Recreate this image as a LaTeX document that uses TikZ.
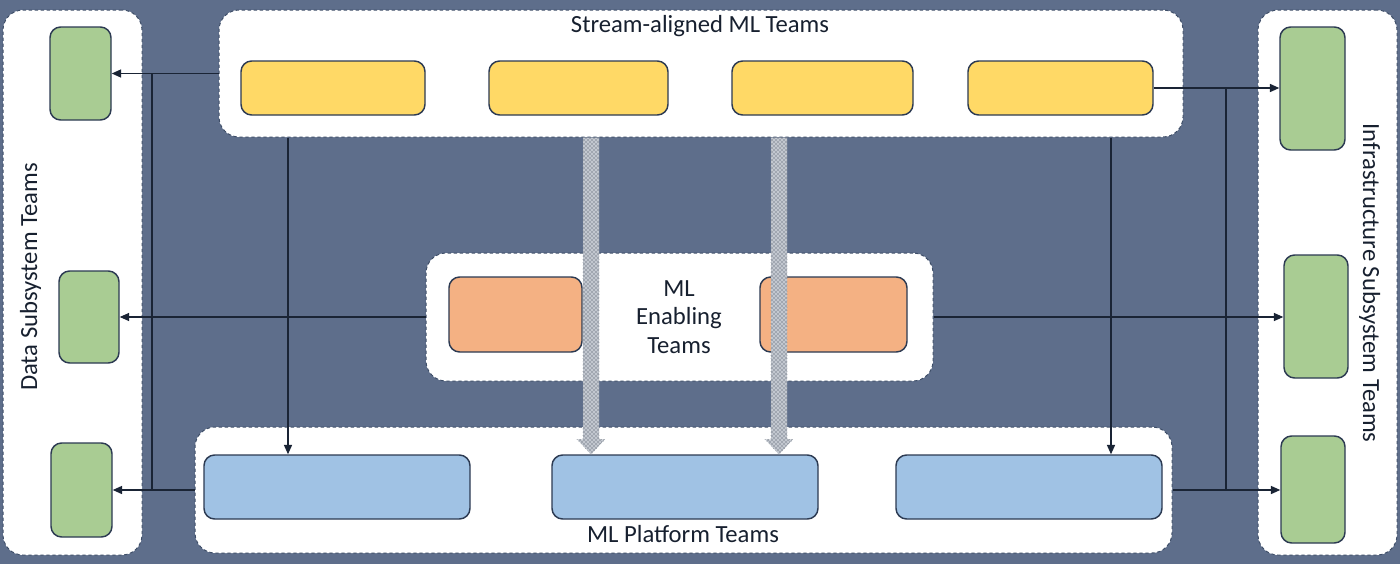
\documentclass[tikz,border=0pt]{standalone}
\usepackage{fontspec}
\setmainfont{Carlito}
\usetikzlibrary{fit,calc,arrows.meta,patterns}
\definecolor{bg}{HTML}{5E6E8B}
\definecolor{linec}{HTML}{1A2435}
\definecolor{tborder}{HTML}{2C3A52}
\definecolor{cborder}{HTML}{3E4E68}
\definecolor{greenf}{HTML}{A9CC93}
\definecolor{yellowf}{HTML}{FFD966}
\definecolor{orangef}{HTML}{F4B183}
\definecolor{bluef}{HTML}{A0C2E4}
\definecolor{txt}{HTML}{17202F}
\definecolor{hatchbg}{HTML}{C2C7CF}
\definecolor{hatchfg}{HTML}{34404F}
\begin{document}
\begin{tikzpicture}[x=0.75pt,y=-0.75pt,
  container/.style={draw=cborder, fill=white, line width=0.75pt, dash pattern=on 2.5pt off 2pt, rounded corners=15pt, inner sep=0pt},
  team/.style={draw=tborder, line width=1.1pt, rounded corners=8pt, inner sep=0pt},
  green/.style={team, fill=greenf},
  yellow/.style={team, fill=yellowf},
  orange/.style={team, fill=orangef},
  blue/.style={team, fill=bluef},
  lbl/.style={text=txt, font=\fontsize{18.5}{21.4}\selectfont, inner sep=0pt},
  conn/.style={draw=linec, line width=1.1pt, -{Triangle[length=7pt,width=6pt]}},
  thinconn/.style={draw=linec, line width=0.8pt, -{Triangle[length=7pt,width=6pt]}},
  bus/.style={draw=linec, line width=1.5pt},
  hatch/.style={draw=hatchfg!60, line width=0.4pt, dotted, preaction={fill=hatchbg}, pattern=crosshatch dots, pattern color=hatchfg}
]
\fill[bg] (0,0) rectangle (1400,564);
\useasboundingbox (0,0) rectangle (1400,564);

% containers
\node[container, fit={(3,10)(142,555)}] (dataC) {};
\node[container, fit={(1258,10)(1397,555)}] (infraC) {};
\node[container, fit={(219,10)(1183,137)}] (topC) {};
\node[container, fit={(426,253)(933,381)}] (midC) {};
\node[container, fit={(195,427)(1172,553)}] (botC) {};

% container labels
\node[lbl, anchor=base] (tTop) at (700,32) {Stream-aligned ML Teams};
\node[lbl, align=center] (tMid) at (679,317) {ML\\Enabling\\Teams};
\node[lbl, anchor=base] (tBot) at (683,542) {ML Platform Teams};
\node[lbl, rotate=90, anchor=base] (tData) at (37,277) {Data Subsystem Teams};
\node[lbl, rotate=-90, anchor=base] (tInfra) at (1363,283) {Infrastructure Subsystem Teams};

% data subsystem teams
\node[green, fit={(50,27)(111,120)}] (L1) {};
\node[green, fit={(59,271)(119,363)}] (L2) {};
\node[green, fit={(51,443)(112,537)}] (L3) {};

% infrastructure subsystem teams
\node[green, fit={(1280,27)(1345,150)}] (R1) {};
\node[green, fit={(1284,255)(1348,378)}] (R2) {};
\node[green, fit={(1281,436)(1345,543)}] (R3) {};

% stream-aligned teams
\node[yellow, fit={(241,61)(425,115)}] (Y1) {};
\node[yellow, fit={(489,61)(668,115)}] (Y2) {};
\node[yellow, fit={(732,61)(913,115)}] (Y3) {};
\node[yellow, fit={(968,61)(1153,115)}] (Y4) {};

% enabling teams
\node[orange, fit={(449,277)(582,352)}] (O1) {};
\node[orange, fit={(760,277)(907,352)}] (O2) {};

% platform teams
\node[blue, fit={(204,455)(470,519)}] (B1) {};
\node[blue, fit={(552,455)(818,519)}] (B2) {};
\node[blue, fit={(896,455)(1162,519)}] (B3) {};

% helper coordinates
\coordinate (busL) at (152,0);
\coordinate (busR) at (1226,0);
\coordinate (dn1) at (288,0);
\coordinate (dn2) at (1111,0);
\coordinate (ha1) at (591,0);
\coordinate (ha2) at (779,0);

% connectors left
\draw[bus] (busL |- topC.west) -- (busL |- botC.west);
\draw[conn] (topC.west) -- (L1.east);
\draw[conn] (botC.west) -- (L3.east);
\draw[thinconn] (midC.west) -- (L2.east);

% connectors right
\draw[bus] (busR |- Y4.east) -- (busR |- botC.east);
\draw[conn] (Y4.east) -- (Y4.east -| R1.west);
\draw[conn] (botC.east) -- (botC.east -| R3.west);
\draw[thinconn] (midC.east) -- (midC.east -| R2.west);

% vertical connectors
\draw[conn] (dn1 |- topC.south) -- (dn1 |- B1.north);
\draw[conn] (dn2 |- topC.south) -- (dn2 |- B3.north);

% hatched arrows
\path[hatch] let \p1=(ha1 |- topC.south), \p2=(ha1 |- B2.north) in
  (\x1-6pt,\y1) -- (\x1+6pt,\y1) -- (\x1+6pt,\y2+11.25pt) -- (\x1+10.5pt,\y2+11.25pt)
  -- (\x2,\y2) -- (\x1-10.5pt,\y2+11.25pt) -- (\x1-6pt,\y2+11.25pt) -- cycle;
\path[hatch] let \p1=(ha2 |- topC.south), \p2=(ha2 |- B2.north) in
  (\x1-6pt,\y1) -- (\x1+6pt,\y1) -- (\x1+6pt,\y2+11.25pt) -- (\x1+10.5pt,\y2+11.25pt)
  -- (\x2,\y2) -- (\x1-10.5pt,\y2+11.25pt) -- (\x1-6pt,\y2+11.25pt) -- cycle;
\end{tikzpicture}
\end{document}
